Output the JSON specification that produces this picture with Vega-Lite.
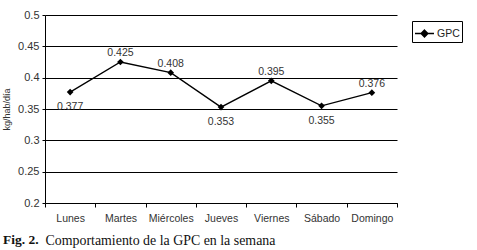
{
  "$schema": "https://vega.github.io/schema/vega-lite/v6.json",
  "width": 352,
  "height": 188,
  "autosize": "none",
  "padding": {"left": 45, "top": 15, "right": 80, "bottom": 47},
  "background": "white",
  "config": {
    "view": {"stroke": null},
    "font": "Liberation Sans"
  },
  "title": {
    "text": "Fig. 2.",
    "orient": "bottom",
    "anchor": "start",
    "frame": "group",
    "dx": -42,
    "offset": -14,
    "baseline": "top",
    "font": "Liberation Serif",
    "fontSize": 13.5,
    "fontWeight": "bold",
    "color": "#111"
  },
  "data": {
    "values": [
      {"dia": "Lunes", "gpc": 0.377, "serie": "GPC"},
      {"dia": "Martes", "gpc": 0.425, "serie": "GPC"},
      {"dia": "Miércoles", "gpc": 0.408, "serie": "GPC"},
      {"dia": "Jueves", "gpc": 0.353, "serie": "GPC"},
      {"dia": "Viernes", "gpc": 0.395, "serie": "GPC"},
      {"dia": "Sábado", "gpc": 0.355, "serie": "GPC"},
      {"dia": "Domingo", "gpc": 0.376, "serie": "GPC"}
    ]
  },
  "encoding": {
    "x": {
      "field": "dia",
      "type": "nominal",
      "sort": null,
      "scale": {"type": "band", "paddingInner": 0, "paddingOuter": 0},
      "axis": {
        "title": "Comportamiento de la GPC en la semana",
        "titleFont": "Liberation Serif",
        "titleFontSize": 13.9,
        "titleFontWeight": "normal",
        "titleColor": "#111",
        "titleAnchor": "start",
        "titleAlign": "left",
        "titleBaseline": "alphabetic",
        "titleX": 0,
        "titleY": 41,
        "labelAngle": 0,
        "tickBand": "extent",
        "domainColor": "black",
        "tickColor": "black",
        "tickSize": 4,
        "labelPadding": 6,
        "labelFontSize": 10.5,
        "labelColor": "#333",
        "grid": false
      }
    },
    "y": {
      "field": "gpc",
      "type": "quantitative",
      "scale": {"domain": [0.2, 0.5], "nice": false, "zero": false},
      "axis": {
        "title": "kg/hab/día",
        "titleFontSize": 9,
        "titleFontWeight": "normal",
        "titleColor": "#333",
        "titlePadding": 6,
        "values": [0.2, 0.25, 0.3, 0.35, 0.4, 0.45, 0.5],
        "format": ".2~f",
        "labelFontSize": 11,
        "labelColor": "#333",
        "labelPadding": 3,
        "tickSize": 3,
        "tickColor": "black",
        "domainColor": "black",
        "grid": true,
        "gridColor": "black",
        "gridOpacity": 1,
        "gridWidth": 1
      }
    }
  },
  "layer": [
    {
      "mark": {"type": "line", "color": "black", "strokeWidth": 1.3},
      "encoding": {
        "color": {
          "field": "serie",
          "type": "nominal",
          "scale": {"range": ["black"]},
          "legend": {
            "title": null,
            "orient": "none",
            "legendX": 367,
            "legendY": 6,
            "strokeColor": "black",
            "padding": 2,
            "labelFontSize": 10.5,
            "labelColor": "#222",
            "symbolType": "M-1,0H1M0,-0.35L0.35,0L0,0.35L-0.35,0Z",
            "symbolSize": 360,
            "symbolStrokeWidth": 1.5,
            "symbolFillColor": "black",
            "symbolStrokeColor": "black",
            "labelOffset": 2
          }
        }
      }
    },
    {
      "mark": {"type": "point", "shape": "diamond", "filled": true, "color": "black", "size": 45, "opacity": 1}
    },
    {
      "transform": [{"filter": "indexof(['Lunes','Jueves','Sábado'], datum.dia) < 0"}],
      "mark": {"type": "text", "baseline": "bottom", "dy": -4, "fontSize": 10.5, "color": "#333"},
      "encoding": {"text": {"field": "gpc", "type": "quantitative", "format": ".3f"}}
    },
    {
      "transform": [{"filter": "indexof(['Lunes','Jueves','Sábado'], datum.dia) >= 0"}],
      "mark": {"type": "text", "baseline": "top", "dy": 10, "fontSize": 10.5, "color": "#333"},
      "encoding": {"text": {"field": "gpc", "type": "quantitative", "format": ".3f"}}
    }
  ]
}
